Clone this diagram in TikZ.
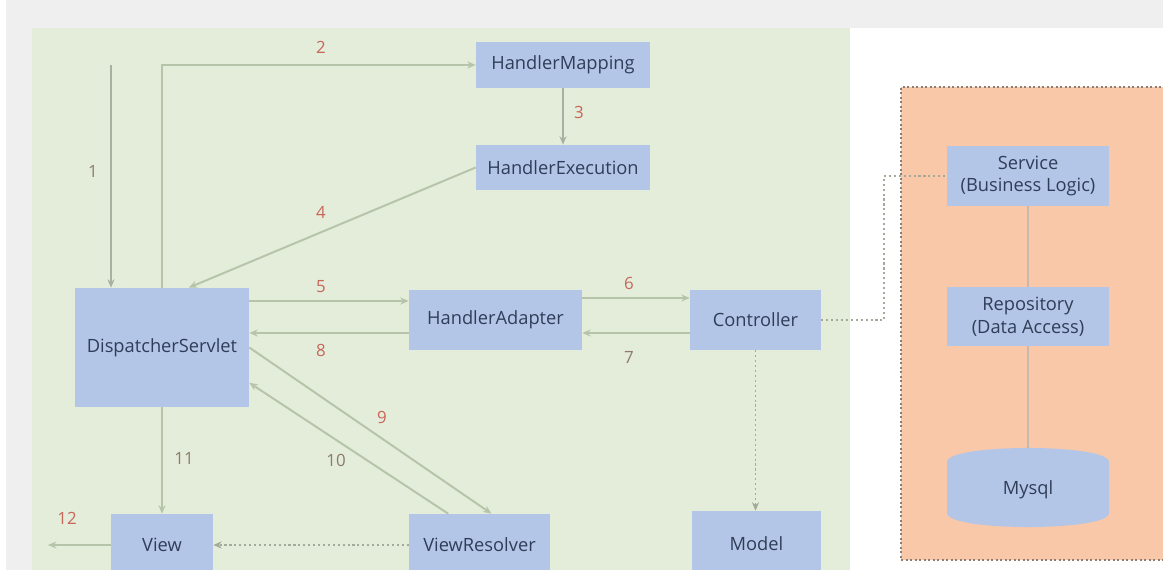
\documentclass[tikz,border=0pt]{standalone}
\usepackage{fontspec}
\setmainfont{Open Sans}
\usetikzlibrary{arrows.meta,calc}
\definecolor{pagegray}{HTML}{EFEFEF}
\definecolor{webgreen}{HTML}{E3EDDA}
\definecolor{tierorange}{HTML}{F8C8A8}
\definecolor{tierborder}{HTML}{8C7C72}
\definecolor{boxfill}{HTML}{B4C6E7}
\definecolor{boxtext}{HTML}{2F3D58}
\definecolor{flowline}{HTML}{B6C5AA}
\definecolor{thinline}{HTML}{A8B0A2}
\definecolor{dotline}{HTML}{A3AA9C}
\definecolor{tierline}{HTML}{C9B8AE}
\definecolor{numred}{HTML}{C8665A}
\definecolor{numbrown}{HTML}{8E7B69}

\begin{document}
\begin{tikzpicture}[x=0.025cm,y=-0.025cm,
  >={Stealth[length=6pt,width=5pt]},
  box/.style={fill=boxfill,text=boxtext,font=\fontsize{13}{16}\selectfont,inner sep=0pt,align=center},
  flow/.style={->,draw=flowline,line width=1.4pt},
  thin/.style={->,draw=thinline,line width=0.8pt},
  dots/.style={draw=dotline,line width=1.4pt,dash pattern=on 1.5pt off 2pt},
  num/.style={text=numred,font=\fontsize{12}{14}\selectfont},
  numb/.style={text=numbrown,font=\fontsize{12}{14}\selectfont}]
\useasboundingbox (0,0) rectangle (1163,570);
% backgrounds
\fill[pagegray] (0,0) rectangle (1163,570);
\fill[white] (0,0) rectangle (6,570);
\fill[webgreen] (32,28) rectangle (850,570);
\fill[white] (850,28) rectangle (1163,570);
\fill[tierorange] (901,87) rectangle (1170,560);
\draw[tierborder,line width=1.2pt,dotted] (1170,87) -- (901,87) -- (901,560) -- (1170,560);

% boxes
\node[box,minimum width=4.35cm,minimum height=1.15cm] (hm) at (563,65) {HandlerMapping};
\node[box,minimum width=4.35cm,minimum height=1.125cm] (he) at (563,167.5) {HandlerExecution};
\node[box,minimum width=4.35cm,minimum height=2.975cm] (ds) at (162,347.5) {DispatcherServlet};
\node[box,minimum width=4.325cm,minimum height=1.5cm] (ha) at (495.5,320) {HandlerAdapter};
\node[box,minimum width=3.275cm,minimum height=1.5cm] (ctl) at (755.5,320) {Controller};
\node[box,minimum width=2.55cm,minimum height=1.55cm] (view) at (162,545) {View};
\node[box,minimum width=3.525cm,minimum height=1.55cm] (vr) at (479.5,545) {ViewResolver};
\node[box,minimum width=3.225cm,minimum height=1.625cm] (model) at (756.5,543.5) {Model};
\node[box,minimum width=4.05cm,minimum height=1.5cm] (svc) at (1028,176) {Service\\(Business Logic)};
\node[box,minimum width=4.05cm,minimum height=1.475cm] (repo) at (1028,316.5) {Repository\\(Data Access)};
\fill[boxfill] (947,462) .. controls (947,443.3) and (1109,443.3) .. (1109,462)
  -- (1109,513) .. controls (1109,531.7) and (947,531.7) .. (947,513) -- cycle;
\node[box,fill=none,minimum width=4.05cm,minimum height=1.975cm] (db) at (1028,490) {Mysql};

% request flow
\coordinate (in1) at (111,65);
\draw[thin] (in1) -- (in1 |- ds.north);
\draw[flow] (ds.north) |- (hm.west);
\draw[thin] (hm.south) -- (he.north);
\draw[flow] (he.west) -- (ds.66);
\coordinate (p5) at ($(ha.west)+(0,-19)$);
\coordinate (p8) at ($(ha.west)+(0,13)$);
\coordinate (p6) at ($(ctl.west)+(0,-22)$);
\coordinate (p7) at ($(ctl.west)+(0,13)$);
\draw[flow] (p5 -| ds.east) -- (p5);
\draw[flow] (p6 -| ha.east) -- (p6);
\draw[flow] (p7) -- (p7 -| ha.east);
\draw[flow] (p8) -- (p8 -| ds.east);
\draw[flow] (ds.east) -- (vr.69);
\draw[flow] (vr.135) -- (ds.-22);
\draw[flow] (ds.south) -- (view.north);
\coordinate (out12) at (48,545);
\draw[flow] (view.west) -- (out12);
\draw[dots,->] (vr.west) -- (view.east);
\draw[dots,->] (ctl.south) -- (ctl.south |- model.north);
\coordinate (bend) at (884,320);
\draw[dots] (ctl.east) -- (bend) |- (svc.west);
\draw[tierline,line width=1.4pt] (svc.south) -- (repo.north);
\draw[tierline,line width=1.4pt] (repo.south) -- (1028,448);

% step numbers
\node[numb] (l1) at (93,171) {1};
\node[num] (l2) at (321,47) {2};
\node[num] (l3) at (579,112) {3};
\node[num] (l4) at (321,212) {4};
\node[num] (l5) at (321,287) {5};
\node[num] (l6) at (629,283) {6};
\node[numb] (l7) at (629,357) {7};
\node[num] (l8) at (321,350) {8};
\node[num] (l9) at (382,417) {9};
\node[numb] (l10) at (336,460) {10};
\node[numb] (l11) at (184,458) {11};
\node[num] (l12) at (67,518) {12};
\end{tikzpicture}
\end{document}
